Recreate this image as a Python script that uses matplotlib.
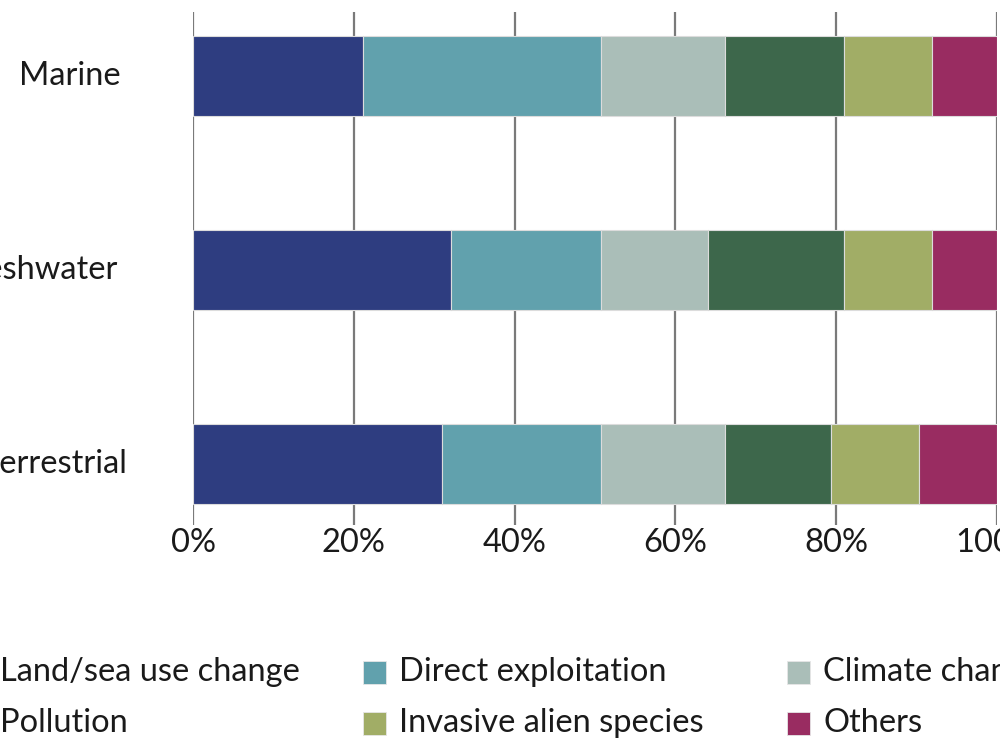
import matplotlib
matplotlib.use("Agg")
import numpy as np
from matplotlib import pyplot as plt
from matplotlib.patches import Rectangle
from matplotlib.transforms import blended_transform_factory

# data (percent of total drivers)
realms = ['Marine', 'Freshwater', 'Terrestrial']
drivers = ['Land/sea use change', 'Direct exploitation', 'Climate change',
           'Pollution', 'Invasive alien species', 'Others']
marine = [21.1, 29.6, 15.5, 14.8, 10.9, 8.1]
freshwater = [32.1, 18.6, 13.3, 17.0, 10.9, 8.1]
terrestrial = [31.0, 19.7, 15.5, 13.1, 11.0, 9.7]
xticks = [0, 20, 40, 60, 80, 100]
xticklabels = ['0%', '20%', '40%', '60%', '80%', '100%']

colors = ['#2e3d80', '#61a1ad', '#aabeb8', '#3d674b', '#a1ad66', '#992c61']

plt.rcParams['font.family'] = ['Lato', 'DejaVu Sans']
fs = 23.5
txt = '#1a1a1a'

fig = plt.figure(figsize=(10, 7.5), dpi=100)
ax = fig.add_axes([0.193, 0.30, 0.804, 0.684])

values = np.array([marine, freshwater, terrestrial])
ypos = np.arange(len(realms))
left = np.zeros(len(realms))
for j, drv in enumerate(drivers):
    ax.barh(ypos, values[:, j], left=left, height=0.41, color=colors[j],
            edgecolor='#dcdcdc', linewidth=0.8, zorder=3)
    left += values[:, j]

ax.set_xlim(0, 100)
ax.set_ylim(2.315, -0.33)
ax.set_xticks(xticks)
ax.set_xticklabels(xticklabels, fontsize=fs, color=txt)
ax.tick_params(axis='x', length=0, pad=2)
ax.set_yticks([])
for s in ax.spines.values():
    s.set_visible(False)
ax.grid(axis='x', color='#7a7a7a', linewidth=1.6, zorder=1)

# category labels, right edges in figure pixels as in the reference
label_right = [121, 117, 127]
trans = blended_transform_factory(fig.transFigure, ax.transData)
for i, name in enumerate(realms):
    ax.text(label_right[i] / 1000, ypos[i], name, transform=trans,
            ha='right', va='center', fontsize=fs, color=txt)

# legend drawn by hand, 3 columns x 2 rows
col_x = [-36, 363, 787]
row_y = [672, 723]
sq = 23
for i, drv in enumerate(drivers):
    c, r = i % 3, i // 3
    x0 = col_x[c] / 1000
    yc = 1 - row_y[r] / 750
    fig.patches.append(Rectangle((x0, yc - sq / 2 / 750), sq / 1000, sq / 750,
                                 transform=fig.transFigure, facecolor=colors[i],
                                 edgecolor='#e6e6e6', linewidth=0.6))
    fig.text(x0 + 36 / 1000, yc, drv, ha='left', va='center', fontsize=fs,
             color=txt)

fig.savefig('out.png', dpi=100)
